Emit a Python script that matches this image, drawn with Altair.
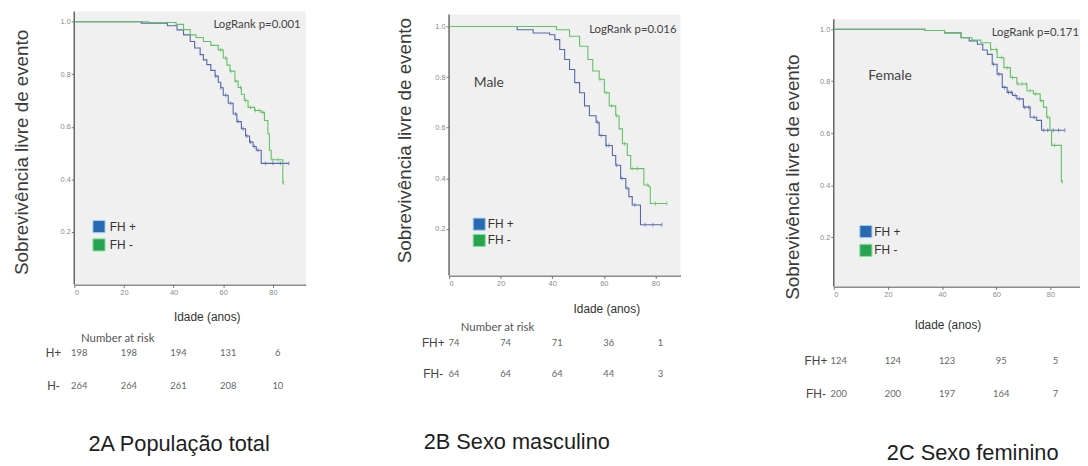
import altair as alt
import pandas as pd

# ---------------- data ----------------
# Panel 2A - Populacao total
a_fhp_age = [0, 27, 37.5, 41.4, 44, 46.7, 48.5, 50.7, 52, 53.4, 55, 56.7, 58, 59, 60, 62, 64, 65.5, 67.3, 69, 70.6, 72, 73.3, 75.3, 86.4]
a_fhp_surv = [1.0, 0.995, 0.985, 0.969, 0.95, 0.925, 0.9, 0.875, 0.855, 0.837, 0.815, 0.793, 0.77, 0.749, 0.72, 0.69, 0.649, 0.62, 0.593, 0.565, 0.542, 0.525, 0.511, 0.461, 0.461]
a_fhm_age = [0, 30, 41, 44, 46.7, 49, 52, 55, 58, 60, 61.5, 62.7, 64.7, 66, 67.3, 68.5, 70, 72.6, 75.3, 76.6, 78, 78.6, 79.3, 84, 84.3]
a_fhm_surv = [1.0, 0.997, 0.99, 0.97, 0.95, 0.94, 0.925, 0.91, 0.893, 0.862, 0.835, 0.812, 0.774, 0.75, 0.724, 0.70, 0.674, 0.662, 0.655, 0.624, 0.574, 0.511, 0.475, 0.386, 0.386]
a_fhp_cens = [57, 59, 61, 63, 65, 66, 68, 69.5, 71, 72.5, 74, 77, 80, 83, 86.4]
a_fhm_cens = [59, 61, 63, 65, 67, 69, 71, 73, 74.5, 76, 80, 82, 84.3]

# Panel 2B - Sexo masculino
b_fhp_age = [0, 26.4, 32.6, 39, 41, 42.9, 44.8, 46.7, 48.7, 50.6, 52.5, 54.4, 57, 58.2, 60.8, 63.3, 64.6, 66.5, 68.5, 69.7, 71, 74.2, 82.5]
b_fhp_surv = [1.0, 0.987, 0.974, 0.967, 0.948, 0.909, 0.869, 0.83, 0.778, 0.738, 0.686, 0.647, 0.621, 0.569, 0.529, 0.49, 0.451, 0.399, 0.36, 0.327, 0.294, 0.216, 0.216]
b_fhm_age = [0, 41.6, 46.7, 50.6, 53.8, 55.7, 58.2, 60.2, 62.1, 64.6, 65.9, 67.2, 69.1, 70.4, 75.5, 77.4, 78, 84.4]
b_fhm_surv = [1.0, 0.987, 0.961, 0.922, 0.869, 0.824, 0.791, 0.738, 0.686, 0.647, 0.595, 0.536, 0.49, 0.438, 0.373, 0.366, 0.30, 0.30]
b_fhp_cens = [57.5, 59, 61, 62, 65, 67, 69, 72, 76, 79, 82.5]
b_fhm_cens = [58.5, 61, 63, 65, 68, 71, 73, 77, 80, 84.4]

# Panel 2C - Sexo feminino
c_fhp_age = [0, 33.6, 40.9, 47, 50, 53, 55, 56.7, 58.5, 60.3, 62.2, 64, 66, 67.6, 70, 72.5, 74.9, 76.7, 85.3]
c_fhp_surv = [1.0, 0.995, 0.986, 0.967, 0.955, 0.942, 0.92, 0.903, 0.865, 0.827, 0.776, 0.757, 0.745, 0.732, 0.70, 0.661, 0.649, 0.611, 0.611]
c_fhm_age = [0, 33.6, 40.9, 47, 51, 54.3, 57.9, 60.3, 62.8, 65.2, 67.6, 71.3, 73.7, 76.2, 77.4, 78.6, 79.8, 80.4, 84, 84.4]
c_fhm_surv = [1.0, 0.995, 0.986, 0.967, 0.958, 0.948, 0.922, 0.891, 0.852, 0.814, 0.789, 0.763, 0.751, 0.725, 0.70, 0.661, 0.611, 0.553, 0.413, 0.413]
c_fhp_cens = [59, 61, 63, 64.5, 65.5, 67, 68.5, 70.5, 72, 74, 77.5, 79, 81, 83, 85.3]
c_fhm_cens = [58, 60, 62, 64, 66, 68, 69.5, 71, 72.5, 74.5, 76.5, 79, 81.5, 84.4]

# Number at risk
risk_times = [0, 20, 40, 60, 80]
a_risk_fhp = [198, 198, 194, 131, 6]
a_risk_fhm = [264, 264, 261, 208, 10]
b_risk_fhp = [74, 74, 71, 36, 1]
b_risk_fhm = [64, 64, 64, 44, 3]
c_risk_fhp = [124, 124, 123, 95, 5]
c_risk_fhm = [200, 200, 197, 164, 7]

x_ticks = [0, 20, 40, 60, 80]
y_ticks = [0.2, 0.4, 0.6, 0.8, 1.0]

BLUE_LINE = "#5568aa"
GREEN_LINE = "#62c264"
BLUE_SQ = "#2a68b2"
GREEN_SQ = "#26a452"
BG = "#f0f0f0"
AXIS = "#666666"
SANS = "Liberation Sans"
CAL = "Lato"


def step_value(ages, survs, a):
    val = survs[0]
    for ag, sv in zip(ages, survs):
        if ag <= a:
            val = sv
    return val


def ann(text, x, y, **style):
    return alt.Chart(pd.DataFrame({"t": [text]})).mark_text(**style).encode(
        x=alt.value(x), y=alt.value(y), text="t:N")


def square(x, y, color):
    return alt.Chart(pd.DataFrame({"t": [0]})).mark_square(
        size=150, color=color, opacity=1,
        stroke="#9fd0ee" if color == BLUE_SQ else "#8fdc9f",
        strokeWidth=1).encode(x=alt.value(x), y=alt.value(y))


def panel(c):
    W, H = c["w"], c["h"]
    xs = alt.Scale(domain=[0, c["xmax"]], nice=False, zero=False)
    ys = alt.Scale(domain=[c["ymin"], c["ymax"]], nice=False, zero=False)
    xa = alt.Axis(values=x_ticks, format="d", title="Idade (anos)",
                  titleX=c["xt_x"], titleY=c["xt_y"], titleAlign="center",
                  titleBaseline="middle", titleFont=SANS, titleFontSize=12,
                  titleFontWeight="normal", titleColor="#333")
    ya = alt.Axis(values=y_ticks, format=".1f", title="Sobrevivência livre de evento",
                  titleX=c["yt_x"], titleY=c["yt_y"], titleAngle=270, titleAlign="center",
                  titleBaseline="middle", titleFont=SANS, titleFontSize=19,
                  titleFontWeight="normal", titleColor="#3a3a3a", domain=False)
    X = alt.X("age:Q", scale=xs, axis=xa)
    Y = alt.Y("surv:Q", scale=ys, axis=ya)
    layers = []
    # grey plotting area and the left axis line (same extent as the grey area)
    bg = pd.DataFrame({"age": [0], "age2": [c["xmax"]], "surv": [c["ymin"]], "surv2": [c["gtop"]]})
    layers.append(alt.Chart(bg).mark_rect(color=BG).encode(
        x=X, x2="age2:Q", y=Y, y2="surv2:Q"))
    layers.append(alt.Chart(bg).mark_rule(color=AXIS, strokeWidth=1.5).encode(
        x=X, y=Y, y2="surv2:Q"))
    for ages, survs, cens, col in [(c["p_age"], c["p_surv"], c["p_cens"], BLUE_LINE),
                                   (c["m_age"], c["m_surv"], c["m_cens"], GREEN_LINE)]:
        df = pd.DataFrame({"age": ages, "surv": survs})
        layers.append(alt.Chart(df).mark_line(interpolate="step-after", color=col,
                                              strokeWidth=1.1).encode(x=X, y=Y))
        cdf = pd.DataFrame({"age": cens, "surv": [step_value(ages, survs, a) for a in cens]})
        layers.append(alt.Chart(cdf).mark_tick(orient="vertical", size=4, thickness=1,
                                               color=col).encode(x=X, y=Y))
    # number-at-risk rows
    for vals, yy in [(c["r_p"], c["row_p"]), (c["r_m"], c["row_m"])]:
        rdf = pd.DataFrame({"age": risk_times, "n": vals})
        layers.append(alt.Chart(rdf).mark_text(font=CAL, fontSize=9.5, color="#666", dx=5,
                                               baseline="middle", align="center").encode(
            x=X, y=alt.value(yy), text="n:Q"))
    layers.append(ann(c["lab_p"], c["lab_x"], c["row_p"], font=SANS, fontSize=12,
                      color="#444", align="center", baseline="middle"))
    layers.append(ann(c["lab_m"], c["lab_x"], c["row_m"], font=SANS, fontSize=12,
                      color="#444", align="center", baseline="middle"))
    if c.get("nar"):
        layers.append(ann("Number at risk", c["nar_x"], c["nar_y"], font=CAL, fontSize=11.5,
                          color="#555", align="center", baseline="middle"))
    layers.append(ann(c["logrank"], c["lr_x"], c["lr_y"], font=CAL, fontSize=11.5,
                      color="#444", align="right", baseline="middle"))
    if c.get("sex"):
        layers.append(ann(c["sex"], c["sex_x"], c["sex_y"], font=CAL, fontSize=14,
                          color="#444", align="left", baseline="middle"))
    layers.append(square(c["lg_x"], c["lg_y1"], BLUE_SQ))
    layers.append(square(c["lg_x"], c["lg_y2"], GREEN_SQ))
    layers.append(ann("FH +", c["lg_tx"], c["lg_y1"], font=SANS, fontSize=12,
                      color="#333", align="left", baseline="middle"))
    layers.append(ann("FH -", c["lg_tx"], c["lg_y2"], font=SANS, fontSize=12,
                      color="#333", align="left", baseline="middle"))
    layers.append(ann(c["caption"], c["cap_x"], c["cap_y"], font=SANS, fontSize=22,
                      color="#1e1e1e", align="center", baseline="middle"))
    return alt.layer(*layers).properties(width=W, height=H)


pA = panel(dict(w=234, h=276, xmax=93.2, ymin=0.0, ymax=1.039, gtop=1.039,
                p_age=a_fhp_age, p_surv=a_fhp_surv, p_cens=a_fhp_cens,
                m_age=a_fhm_age, m_surv=a_fhm_surv, m_cens=a_fhm_cens,
                r_p=a_risk_fhp, r_m=a_risk_fhm, row_p=345, row_m=379,
                lab_p="H+", lab_m="H-", lab_x=-21, nar=True, nar_x=44, nar_y=331,
                logrank="LogRank p=0.001", lr_x=229, lr_y=14,
                lg_x=25, lg_y1=217.5, lg_y2=236, lg_tx=36,
                caption="2A População total", cap_x=106, cap_y=437,
                xt_x=134, xt_y=32, yt_x=-53, yt_y=142))

pB = panel(dict(w=234, h=267, xmax=89.7, ymin=0.015, ymax=1.059, gtop=1.047,
                p_age=b_fhp_age, p_surv=b_fhp_surv, p_cens=b_fhp_cens,
                m_age=b_fhm_age, m_surv=b_fhm_surv, m_cens=b_fhm_cens,
                r_p=b_risk_fhp, r_m=b_risk_fhm, row_p=335, row_m=367,
                lab_p="FH+", lab_m="FH-", lab_x=-16, nar=True, nar_x=49, nar_y=320,
                logrank="LogRank p=0.016", lr_x=230, lr_y=19,
                sex="Male", sex_x=25, sex_y=72,
                lg_x=30.5, lg_y1=215, lg_y2=231.5, lg_tx=39,
                caption="2B Sexo masculino", cap_x=68.5, cap_y=435,
                xt_x=159, xt_y=33, yt_x=-45, yt_y=130))

pC = panel(dict(w=249, h=278, xmax=90.9, ymin=0.01, ymax=1.068, gtop=1.038,
                p_age=c_fhp_age, p_surv=c_fhp_surv, p_cens=c_fhp_cens,
                m_age=c_fhm_age, m_surv=c_fhm_surv, m_cens=c_fhm_cens,
                r_p=c_risk_fhp, r_m=c_risk_fhm, row_p=353, row_m=387,
                lab_p="FH+", lab_m="FH-", lab_x=-18,
                logrank="LogRank p=0.171", lr_x=248, lr_y=22,
                sex="Female", sex_x=35, sex_y=65,
                lg_x=32.5, lg_y1=222.5, lg_y2=241.5, lg_tx=41,
                caption="2C Sexo feminino", cap_x=140.5, cap_y=446,
                xt_x=115, xt_y=39, yt_x=-42, yt_y=167))


def gap(w):
    return alt.Chart(pd.DataFrame({"v": [0]})).mark_point(opacity=0, size=1).encode(
        x=alt.value(5), y=alt.value(5)).properties(width=w, height=10)


chart = alt.hconcat(pA, gap(145), pB, gap(155), pC, spacing=0, bounds="flush").properties(
    padding={"left": 5, "top": 0, "right": 0, "bottom": 0}
).configure_view(strokeWidth=0).configure_axis(
    labelFont=SANS, labelFontSize=7.5, labelColor="#8a8a8a", tickColor="#777",
    tickSize=3, domainColor=AXIS, domainWidth=1.5, grid=False, labelPadding=1
)

chart.save("out.html", embed_options={"renderer": "svg", "actions": False})
